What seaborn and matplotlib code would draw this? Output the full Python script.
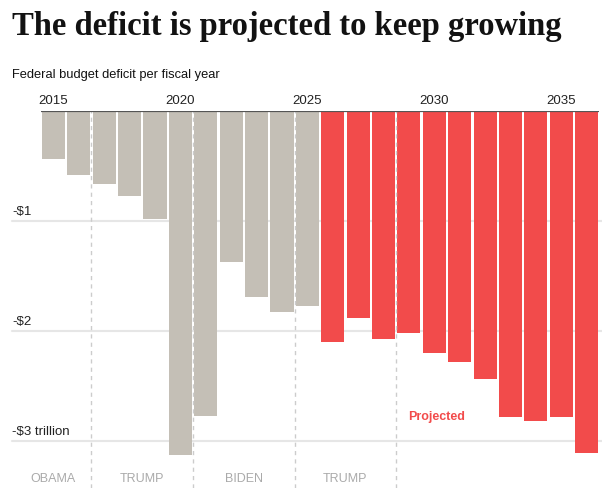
import matplotlib
matplotlib.use('Agg')
import matplotlib.pyplot as plt
import seaborn as sns
import pandas as pd

years = list(range(2015, 2037))
deficit = [-0.44, -0.58, -0.66, -0.77, -0.98, -3.13, -2.77, -1.37, -1.69, -1.83, -1.77,
           -2.10, -1.88, -2.07, -2.02, -2.20, -2.28, -2.44, -2.78, -2.82, -2.78, -3.11]
status = ['Actual'] * 11 + ['Projected'] * 11
tick_years = [2015, 2020, 2025, 2030, 2035]
grid_values = [-1, -2, -3]
grid_labels = ['-$1', '-$2', '-$3 trillion']
terms = ['OBAMA', 'TRUMP', 'BIDEN', 'TRUMP']
term_pos = [-0.03, 3.5, 7.5, 11.5]
term_breaks = [2016.5, 2020.5, 2024.5, 2028.5]

df = pd.DataFrame({'year': years, 'deficit': deficit, 'status': status})

sns.set_style('white')
plt.rcParams['font.family'] = ['Liberation Sans', 'DejaVu Sans']

GRAY = '#c4bfb6'
RED = '#f24b4b'

fig = plt.figure(figsize=(6.02, 4.88), dpi=100)
ax = fig.add_axes([40.7 / 602, 0, 558.7 / 602, 1 - 111 / 488])

sns.barplot(data=df, x='year', y='deficit', hue='status', order=years,
            palette={'Actual': GRAY, 'Projected': RED}, dodge=False, width=0.91,
            saturation=1, linewidth=0, legend=False, ax=ax, zorder=3)

ax.set_xlim(-0.5, len(years) - 0.5)
ax.set_ylim(-(488 - 111) / 110, 0)
for s in ax.spines.values():
    s.set_visible(False)
ax.set_xticks([])
ax.set_yticks([])
ax.set_xlabel('')
ax.set_ylabel('')

# top axis line
ax.axhline(0, color='#555555', lw=1.6, zorder=5)

# horizontal gridlines extending to the left margin
for v, lab in zip(grid_values, grid_labels):
    ax.axhline(v, xmin=-0.052, xmax=1.01, color='#e6e6e6', lw=1.5, zorder=1, clip_on=False)
    ax.text(-1.62, v + 0.03, lab, fontsize=9.5, color='#222222', ha='left', va='bottom')

# year labels
for y in tick_years:
    ax.text(years.index(y), 0.04, str(y), fontsize=9.5, color='#222222', ha='center', va='bottom')

# presidential term separators and labels
for b in term_breaks:
    ax.axvline(years.index(int(b - 0.5)) + 0.5, color='#cccccc', lw=1, ls=(0, (3, 3)), zorder=4)
for x, t in zip(term_pos, terms):
    ax.text(x, -3.345, t, fontsize=9, color='#aaaaaa', ha='center', va='center')

ax.text(13.98, -2.78, 'Projected', fontsize=9, fontweight='bold', color=RED,
        ha='left', va='center')

fig.text(12 / 602, 1 - 35 / 488, 'The deficit is projected to keep growing',
         fontsize=23.5, fontweight='bold', family='Liberation Serif', color='#121212',
         ha='left', va='baseline')
fig.text(12 / 602, 1 - 78 / 488, 'Federal budget deficit per fiscal year',
         fontsize=9.3, color='#121212', ha='left', va='baseline')

fig.savefig('out.png', dpi=100)
